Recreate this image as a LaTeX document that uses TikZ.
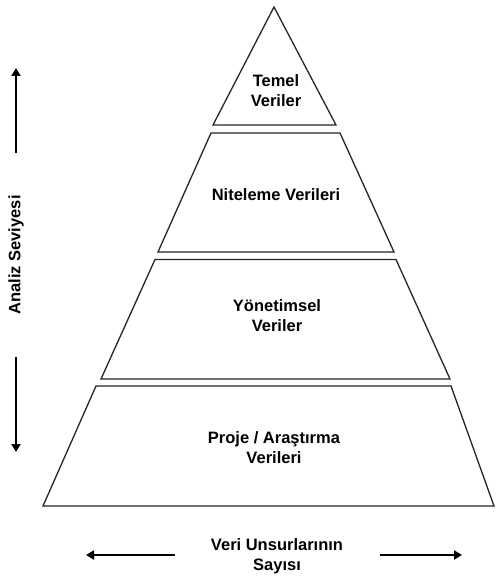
\documentclass[tikz,border=0pt]{standalone}
\usepackage{fontspec}
\setmainfont{Liberation Sans}
\usetikzlibrary{arrows.meta}
\begin{document}
\begin{tikzpicture}[x=1pt,y=-1pt,
  layer/.style={draw=black!85, line width=1.3pt, line join=miter, fill=white},
  label/.style={font=\bfseries\fontsize{16.5}{20}\selectfont, align=center, inner sep=0pt},
  axis/.style={line width=2.6pt, -{Triangle[length=8pt,width=9pt]}}]
\useasboundingbox[fill=white] (0,0) rectangle (495,577);

% pyramid layers, top to bottom
\draw[layer] (274,7) -- (336,125) -- (213,125) -- cycle;
\draw[layer] (211,133) -- (340,133) -- (394,252) -- (158,252) -- cycle;
\draw[layer] (155,259.5) -- (396,259.5) -- (450,379) -- (101,379) -- cycle;
\draw[layer] (96,386) -- (451,386) -- (494,506) -- (43,506) -- cycle;

% layer captions
\node[label] (temel) at (276,91) {Temel\\Veriler};
\node[label] (nitel) at (276,195) {Niteleme Verileri};
\node[label] (yonet) at (277,316) {Yönetimsel\\Veriler};
\node[label] (proje) at (274,448) {Proje / Araştırma\\Verileri};

% vertical axis
\node[label, rotate=90] (analiz) at (16,255) {Analiz Seviyesi};
\coordinate (upS) at (16,153);
\coordinate (upE) at (16,68);
\coordinate (dnS) at (16,357);
\coordinate (dnE) at (16,452);
\draw[axis] (upS) -- (upE);
\draw[axis] (dnS) -- (dnE);

% horizontal axis
\node[label] (sayi) at (277,556) {Veri Unsurlarının\\Sayısı};
\coordinate (lS) at (175,555);
\coordinate (lE) at (86,555);
\coordinate (rS) at (380,555);
\coordinate (rE) at (462,555);
\draw[axis] (lS) -- (lE);
\draw[axis] (rS) -- (rE);
\end{tikzpicture}
\end{document}
